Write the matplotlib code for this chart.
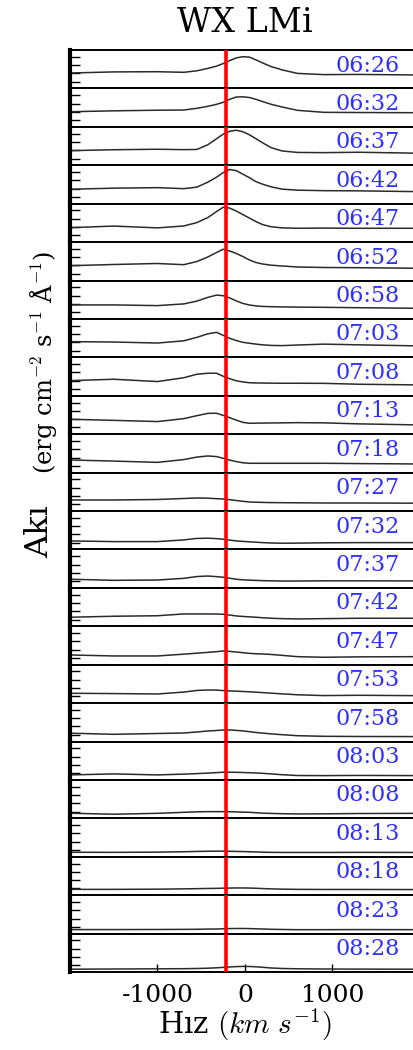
import matplotlib
matplotlib.use('Agg')
import matplotlib.pyplot as plt

plt.rcParams['font.family'] = ['DejaVu Serif']
plt.rcParams['mathtext.fontset'] = 'cm'
plt.rcParams['axes.unicode_minus'] = False

# velocity sampling of the H-alpha profiles (km/s), denser around the line core
vel = [-2000, -1500, -1000, -700, -550, -425, -325, -250, -175, -100,
       -25, 50, 125, 200, 300, 425, 600, 900, 1300, 2000]
rest_vel = -220  # red marker line

times = ['06:26', '06:32', '06:37', '06:42', '06:47', '06:52', '06:58', '07:03',
         '07:08', '07:13', '07:18', '07:27', '07:32', '07:37', '07:42', '07:47',
         '07:53', '07:58', '08:03', '08:08', '08:13', '08:18', '08:23', '08:28']

# flux per exposure (arbitrary units, common scale for every panel)
f0626 = [15.4, 16.5, 16.7, 16.1, 17.6, 20.0, 22.3, 24.8, 27.8, 30.5, 31.7, 31.3, 28.5, 25.5, 21.8, 18.5, 15.0, 13.8, 14.0, 13.4]
f0632 = [15.1, 16.0, 16.6, 16.8, 18.5, 20.5, 22.5, 24.5, 27.5, 29.8, 30.0, 29.3, 27.5, 25.3, 22.5, 19.8, 16.5, 14.5, 14.3, 14.1]
f0637 = [14.6, 15.5, 16.0, 15.6, 15.8, 20.5, 26.5, 31.0, 34.0, 35.0, 33.5, 30.5, 26.5, 22.5, 17.5, 14.3, 12.8, 12.6, 13.0, 12.0]
f0642 = [14.4, 15.5, 16.0, 15.0, 16.5, 21.5, 26.5, 31.0, 34.2, 33.0, 29.5, 26.0, 22.0, 19.5, 16.8, 14.5, 13.5, 13.0, 12.8, 12.0]
f0647 = [14.4, 16.0, 14.2, 16.1, 19.5, 24.5, 30.5, 34.8, 34.0, 31.0, 27.5, 24.0, 20.5, 17.5, 15.3, 14.2, 13.8, 14.0, 13.8, 13.8]
f0652 = [14.8, 16.0, 17.0, 15.8, 19.0, 23.5, 28.0, 31.2, 29.5, 27.0, 24.0, 20.5, 18.0, 16.5, 15.3, 14.5, 13.5, 13.0, 12.8, 12.2]
f0658 = [14.0, 14.0, 13.3, 15.0, 17.8, 21.5, 23.8, 23.2, 21.0, 18.0, 15.5, 13.9, 13.0, 12.5, 12.2, 12.0, 11.8, 11.6, 11.2, 10.6]
f0703 = [15.7, 15.3, 14.3, 16.5, 20.0, 23.5, 25.0, 22.0, 19.0, 16.8, 15.0, 14.1, 13.2, 12.5, 11.9, 11.7, 12.3, 13.2, 12.5, 11.4]
f0708 = [15.1, 16.5, 14.2, 18.0, 21.5, 22.5, 22.5, 19.5, 17.0, 15.0, 13.8, 13.0, 12.8, 12.7, 12.6, 12.5, 12.5, 12.4, 11.5, 10.8]
f0713 = [14.9, 13.8, 12.6, 15.5, 18.5, 20.8, 20.9, 18.8, 16.5, 14.0, 11.8, 10.9, 11.0, 11.1, 11.2, 11.3, 11.5, 11.3, 10.3, 9.2]
f0718 = [12.6, 11.5, 10.2, 13.0, 15.5, 16.6, 16.0, 14.3, 12.5, 11.0, 9.8, 9.3, 9.3, 9.3, 9.3, 9.3, 9.3, 9.3, 9.0, 8.6]
f0727 = [11.0, 11.0, 11.5, 12.5, 13.0, 12.8, 12.3, 12.0, 11.3, 10.5, 9.7, 9.0, 8.8, 8.6, 8.4, 8.3, 8.2, 8.0, 8.0, 7.8]
f0732 = [8.5, 7.8, 7.8, 9.5, 11.0, 11.2, 10.8, 10.2, 9.3, 8.5, 8.0, 7.6, 7.2, 6.8, 6.4, 6.2, 6.3, 6.6, 6.8, 6.8]
f0737 = [8.6, 7.5, 7.8, 9.5, 11.3, 11.8, 11.2, 10.6, 9.6, 8.6, 8.0, 7.7, 7.4, 7.2, 7.0, 6.8, 6.8, 7.0, 7.0, 6.9]
f0742 = [9.0, 10.0, 10.5, 12.3, 12.3, 12.3, 12.2, 12.0, 11.2, 10.3, 9.8, 9.4, 9.0, 8.5, 8.0, 7.6, 7.3, 7.6, 8.0, 8.0]
f0747 = [9.7, 8.7, 8.7, 10.5, 11.5, 12.3, 13.0, 13.7, 13.3, 12.6, 12.0, 11.3, 10.9, 10.7, 10.2, 9.3, 8.0, 7.4, 7.8, 8.0]
f0753 = [9.8, 9.5, 9.1, 11.0, 12.6, 13.1, 13.0, 12.5, 12.2, 11.9, 11.6, 11.3, 10.9, 10.5, 9.9, 9.2, 8.3, 7.5, 7.8, 7.4]
f0758 = [8.3, 7.2, 8.0, 8.5, 9.5, 10.5, 11.0, 11.5, 11.5, 11.1, 10.6, 9.8, 9.0, 8.4, 7.6, 6.8, 5.8, 5.2, 5.0, 4.9]
f0803 = [5.0, 6.0, 5.0, 5.8, 6.3, 6.8, 7.3, 7.7, 7.7, 7.6, 7.4, 7.2, 6.9, 6.6, 6.0, 5.2, 4.4, 4.3, 4.5, 4.3]
f0808 = [5.1, 4.1, 5.0, 6.0, 6.5, 6.7, 6.7, 6.7, 6.6, 6.4, 6.2, 6.0, 5.6, 5.2, 4.9, 4.6, 4.4, 4.5, 4.8, 5.0]
f0813 = [4.5, 4.4, 4.6, 5.0, 5.3, 5.5, 5.6, 5.6, 5.5, 5.3, 5.2, 5.0, 4.8, 4.6, 4.4, 4.3, 4.3, 4.3, 4.4, 4.3]
f0818 = [5.8, 5.8, 6.0, 6.3, 6.5, 6.7, 6.8, 7.0, 7.1, 7.2, 7.2, 7.1, 6.9, 6.6, 6.3, 6.0, 5.8, 5.7, 5.7, 5.6]
f0823 = [4.0, 4.0, 4.1, 4.2, 4.3, 4.5, 4.6, 4.8, 5.0, 5.1, 5.1, 5.0, 4.8, 4.6, 4.3, 4.1, 3.9, 3.9, 4.0, 3.9]
f0828 = [2.8, 3.0, 3.2, 3.3, 3.5, 3.8, 4.2, 4.6, 5.0, 5.4, 5.6, 5.5, 5.2, 4.7, 4.0, 3.5, 3.2, 3.0, 2.9, 2.8]

spectra = [f0626, f0632, f0637, f0642, f0647, f0652, f0658, f0703,
           f0708, f0713, f0718, f0727, f0732, f0737, f0742, f0747,
           f0753, f0758, f0803, f0808, f0813, f0818, f0823, f0828]

flux_lim = (0, 38.4)
flux_ticks = [6.7, 15.0, 23.3, 31.6]

W, H = 414., 1050.
x_left, x_right = 70., 420.
y_top, y_bot = 50., 972.
npan = len(times)
ph = (y_bot - y_top) / npan

fig = plt.figure(figsize=(W / 100., H / 100.), dpi=100)

for i, (stamp, flux) in enumerate(zip(times, spectra)):
    ax = fig.add_axes([x_left / W, (H - y_top - (i + 1) * ph) / H,
                       (x_right - x_left) / W, ph / H])
    ax.plot(vel, flux, color='#2b2b2b', lw=1.1, zorder=2)
    ax.axvline(rest_vel, color='red', lw=2.6, zorder=3)
    ax.set_xlim(-2000, 2000)
    ax.set_ylim(*flux_lim)
    ax.set_yticks(flux_ticks)
    ax.set_yticklabels([])
    ax.tick_params(axis='y', direction='in', length=7, width=1.0)
    for side in ['top', 'bottom']:
        ax.spines[side].set_linewidth(1.4)
    ax.spines['left'].set_linewidth(3.0)
    ax.text(0.943, 0.44, stamp, transform=ax.transAxes, ha='right',
            va='baseline', color='#2f2fff', fontsize=16)
    if i == npan - 1:
        ax.set_xticks([-1000, 0, 1000])
        ax.tick_params(axis='x', direction='in', length=6, width=1.0,
                       pad=9, labelsize=18)
    else:
        ax.set_xticks([])

fig.text(245 / W, 1 - 31.7 / H, 'WX LMi', ha='center', va='baseline',
         fontsize=24)
fig.text(245 / W, 1 - 1034 / H, r'Hız $(km\ s^{-1})$', ha='center',
         va='baseline', fontsize=21)
fig.text(48 / W, 1 - 532 / H, 'Akı', rotation=90, rotation_mode='anchor',
         ha='center', va='baseline', fontsize=23)
fig.text(52 / W, 1 - 362 / H, r'(erg cm$^{-2}$ s$^{-1}$ Å$^{-1}$)',
         rotation=90, rotation_mode='anchor', ha='center', va='baseline',
         fontsize=17.5)

fig.savefig('out.png', dpi=100)
